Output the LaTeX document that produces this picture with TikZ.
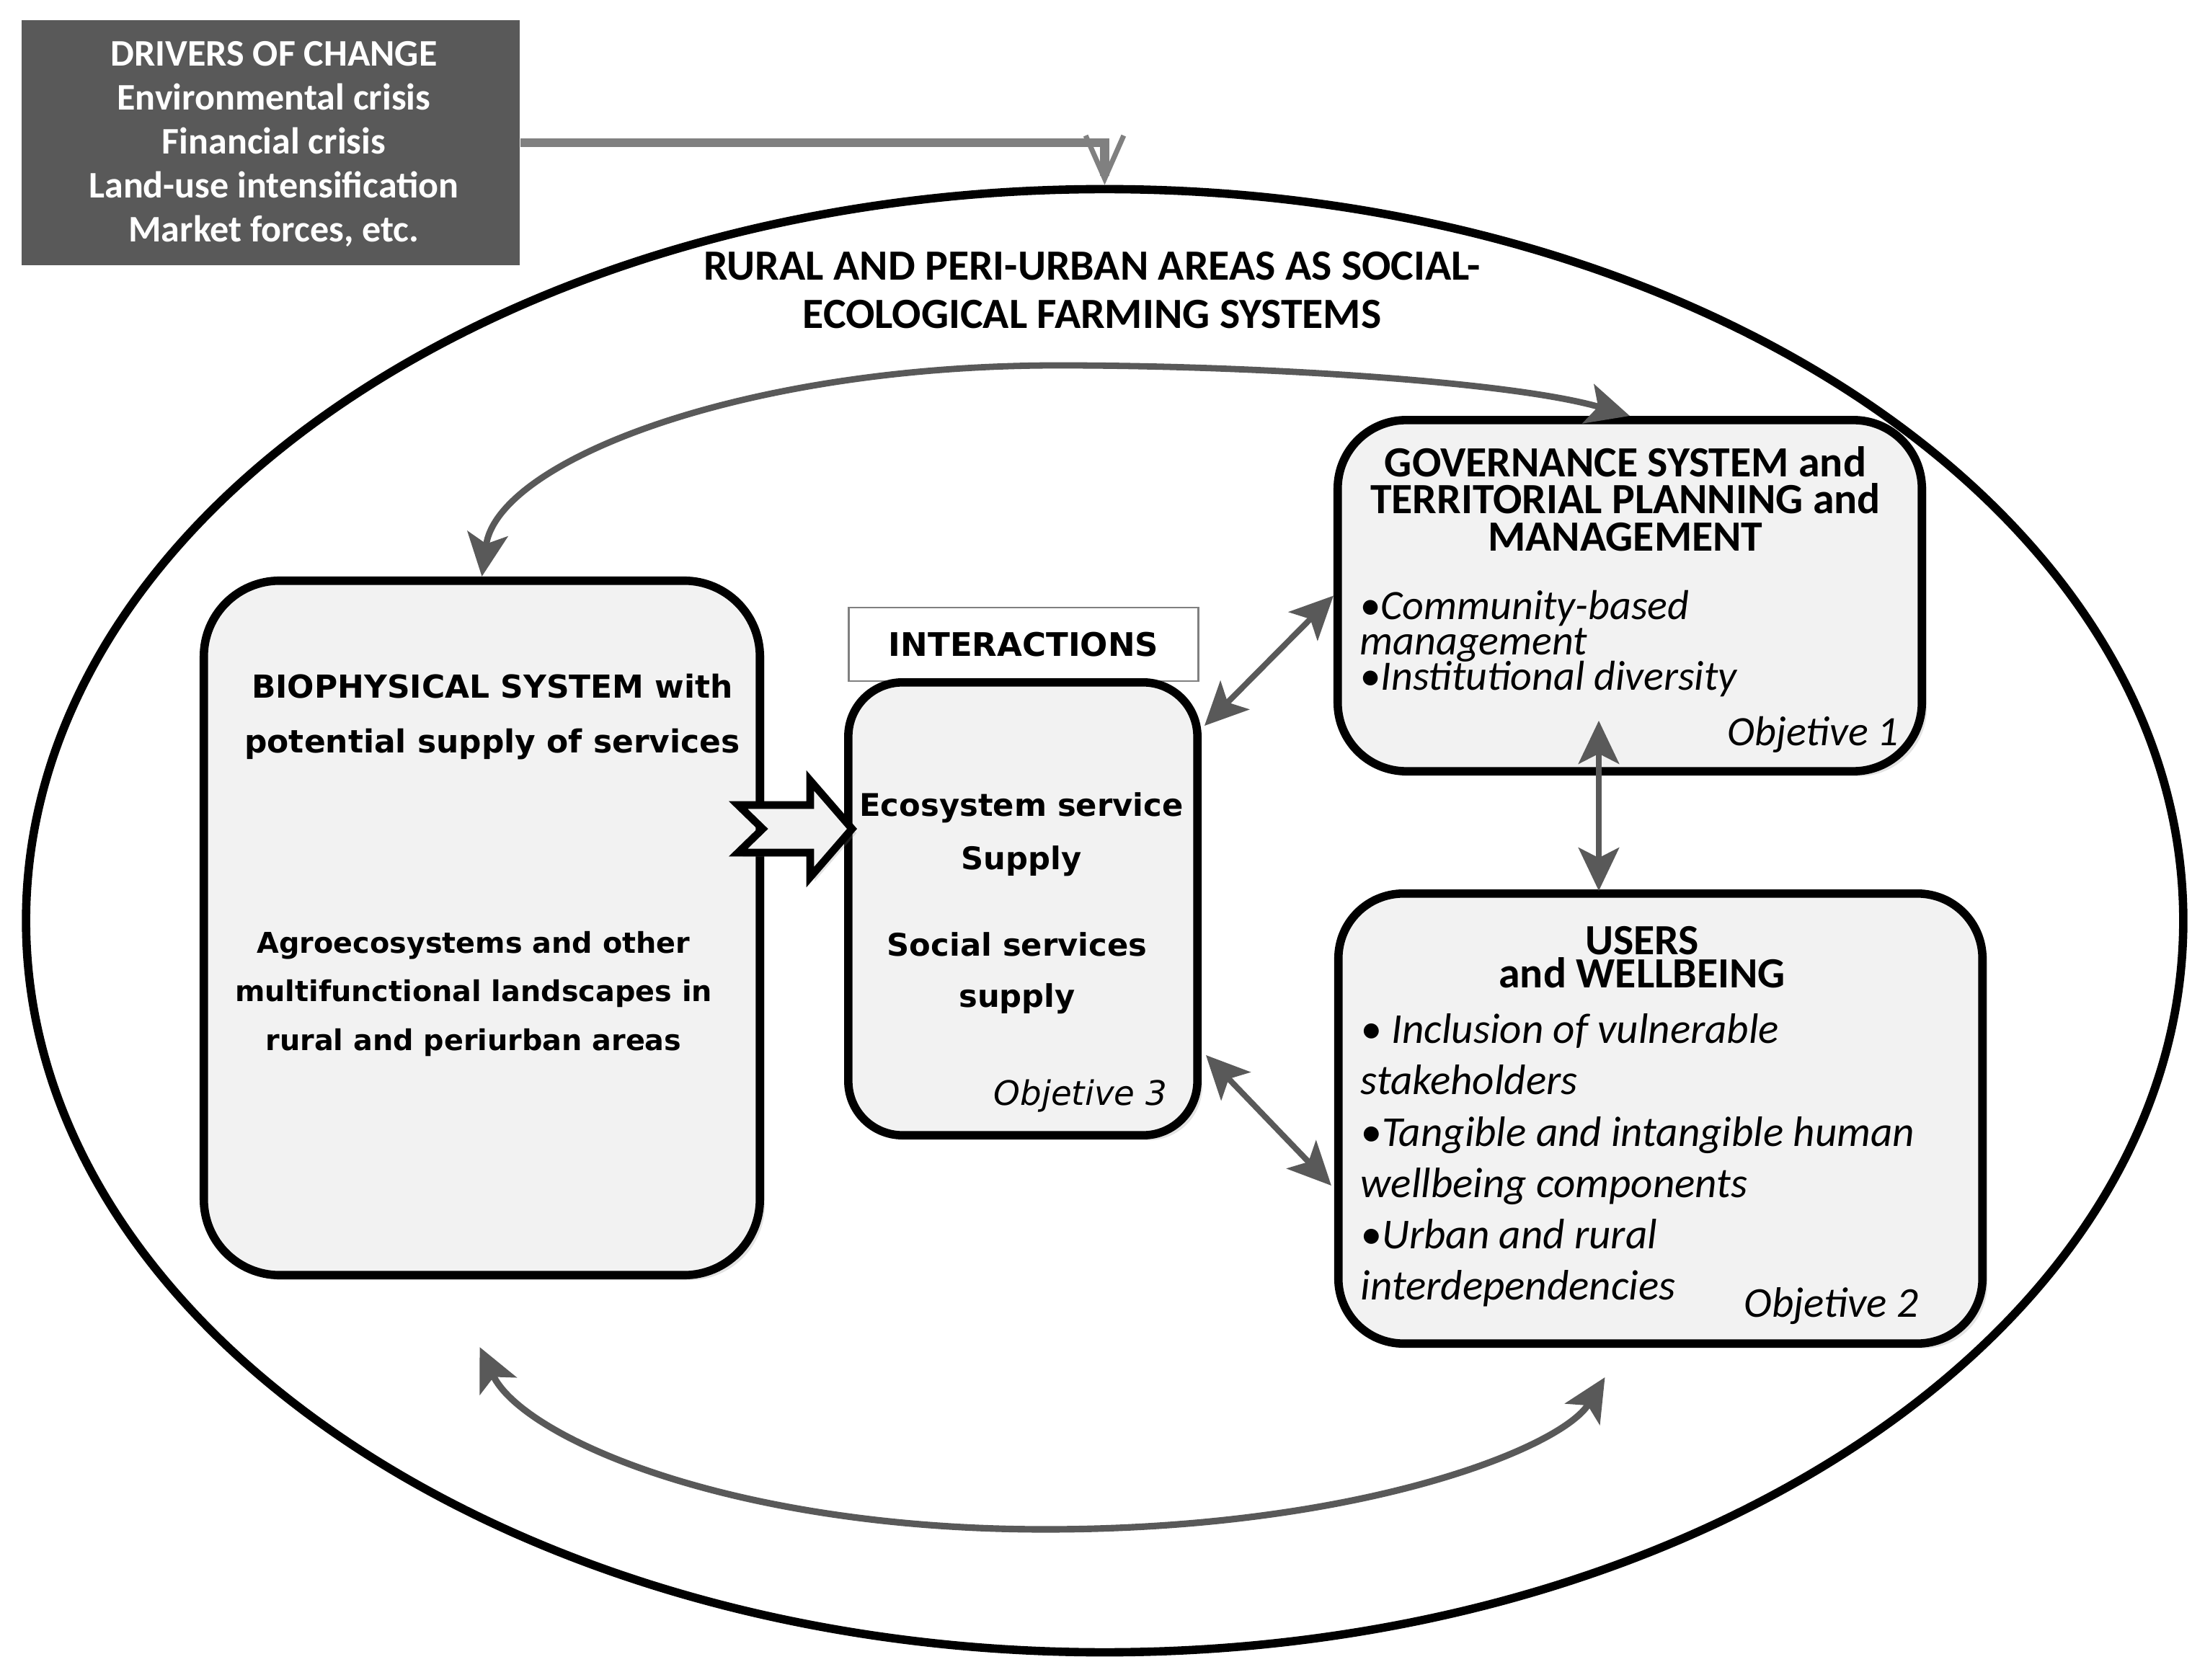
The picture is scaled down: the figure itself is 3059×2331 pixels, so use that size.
\documentclass[tikz,border=0pt]{standalone}
\usepackage{fontspec}
\setmainfont{Carlito}
\newfontfamily\verd{DejaVu Sans}
\usetikzlibrary{arrows.meta,shapes.geometric,shadows,calc}
\definecolor{boxfill}{HTML}{F2F2F2}
\definecolor{arrgray}{HTML}{595959}
\definecolor{drvgray}{HTML}{808080}
\begin{document}
\lineskiplimit=-50pt\relax
\begin{tikzpicture}[x=0.01cm,y=-0.01cm,
  rbox/.style={draw=black, line width=3.3pt, fill=boxfill, inner sep=0pt,
    drop shadow={shadow xshift=0.07cm, shadow yshift=-0.07cm, opacity=0.22}},
  txt/.style={inner sep=0pt, align=center, text=black},
  garrow/.style={draw=arrgray, line width=2.3pt,
    {Stealth[length=17pt,width=16pt,inset=4pt]}-{Stealth[length=17pt,width=16pt,inset=4pt]}},
  ]
\useasboundingbox (0,0) rectangle (3059,2331);

% big ellipse
\node[ellipse, draw=black, line width=3.3pt, minimum width=29.91cm,
  minimum height=20.29cm, inner sep=0pt] (ell) at (1532.5,1277.5) {};

% drivers box
\node[fill=arrgray, minimum width=6.91cm, minimum height=3.40cm, inner sep=0pt] (drivers) at (375.5,198) {};
\node[txt, text=white, font=\bfseries\fontsize{14.8}{17.4}\selectfont] (drvtxt) at (380,200)
  {DRIVERS OF CHANGE\\Environmental crisis\\Financial crisis\\Land-use intensification\\Market forces, etc.};
\draw[draw=drvgray, line width=3.5pt,
  -{Straight Barb[length=17pt,width=15pt,line width=2pt]}] (drivers.east) -| (ell.north);

% title
\node[txt, font=\bfseries\fontsize{17}{19}\selectfont] (title) at (1515,403)
  {RURAL AND PERI-URBAN AREAS AS SOCIAL-\\ECOLOGICAL FARMING SYSTEMS};

% biophysical box
\node[rbox, rounded corners=1.05cm, minimum width=7.71cm, minimum height=9.63cm] (bio) at (668.5,1287.5) {};
\node[txt, font=\verd\bfseries\fontsize{12.5}{21.6}\selectfont] (biot) at (683,995)
  {BIOPHYSICAL SYSTEM with\\potential supply of services};
\node[txt, font=\verd\bfseries\fontsize{11.3}{19.3}\selectfont] (biob) at (657,1379)
  {Agroecosystems and other\\multifunctional landscapes in\\rural and periurban areas};

% interactions
\node[draw=gray, line width=0.8pt, fill=white, minimum width=4.84cm, minimum height=1.02cm,
  inner sep=0pt, font=\verd\bfseries\fontsize{12.8}{15}\selectfont] (inter) at (1420,894) {INTERACTIONS};
\node[rbox, rounded corners=0.75cm, minimum width=4.84cm, minimum height=6.28cm] (eco) at (1419,1261) {};
\node[txt, font=\verd\bfseries\fontsize{12.3}{21}\selectfont] (ecot) at (1417,1158) {Ecosystem service\\Supply};
\node[txt, font=\verd\bfseries\fontsize{12.3}{20.2}\selectfont] (soct) at (1411,1350) {Social services\\supply};
\node[inner sep=0pt, anchor=east, font=\verd\itshape\fontsize{13.3}{16}\selectfont] (obj3) at (1620,1521) {Objetive 3};

% governance box
\node[rbox, rounded corners=0.95cm, minimum width=8.10cm, minimum height=4.87cm] (gov) at (2261,826.5) {};
\node[txt, font=\bfseries\fontsize{17}{14.6}\selectfont] (govt) at (2255,692)
  {GOVERNANCE SYSTEM and\\TERRITORIAL PLANNING and\\MANAGEMENT};
\node[txt, align=left, anchor=west, font=\itshape\fontsize{16.5}{14}\selectfont] (govb) at (1886,893)
  {•Community-based\\management\\•Institutional diversity};
\node[inner sep=0pt, anchor=east, font=\itshape\fontsize{16.5}{18}\selectfont] (obj1) at (2635,1019) {Objetive 1};

% users box
\node[rbox, rounded corners=0.9cm, minimum width=8.93cm, minimum height=6.24cm] (users) at (2303.5,1552) {};
\node[txt, font=\bfseries\fontsize{17}{13.2}\selectfont] (usrt) at (2278,1328) {USERS\\and WELLBEING};
\node[txt, align=left, anchor=west, font=\itshape\fontsize{16.8}{20.26}\selectfont] (usrb) at (1887,1610)
  {• Inclusion of vulnerable\\stakeholders\\•Tangible and intangible human\\wellbeing components\\•Urban and rural\\interdependencies};
\node[inner sep=0pt, anchor=east, font=\itshape\fontsize{16.8}{18}\selectfont] (obj2) at (2662,1812) {Objetive 2};

% hollow block arrow bio -> eco
\coordinate (hb) at (1058,1150);
\draw[line width=3pt, draw=black, fill=boxfill,
  drop shadow={shadow xshift=0.06cm, shadow yshift=-0.06cm, opacity=0.22}]
  (1024,1117) -- (1124,1117) -- (1124,1083) -- (1182,1150) -- (1124,1217)
  -- (1124,1183) -- (1024,1183) -- (hb) -- cycle;

% double arrows
\draw[garrow] ($(eco.north east)+(4,66)$) -- (gov.west);
\draw[garrow] ($(eco.south east)+(6,-117)$) -- ($(users.west)+(-4,93)$);
\draw[garrow] ($(gov.south)+(-43,-76)$) -- ($(users.north)+(-85.5,2)$);

% curved arrows
\draw[garrow, line width=2.5pt] (bio.north) .. controls (690,640) and (1030,507) .. (1468,507)
  .. controls (1750,507) and (2100,530) .. (gov.north);
\draw[garrow, line width=2.6pt] ($(bio.south)+(-3,94)$) .. controls (725,1995) and (1016,2122) .. (1450,2122)
  .. controls (1884,2122) and (2166,2010) .. ($(users.south)+(-77,41)$);
\end{tikzpicture}
\end{document}
